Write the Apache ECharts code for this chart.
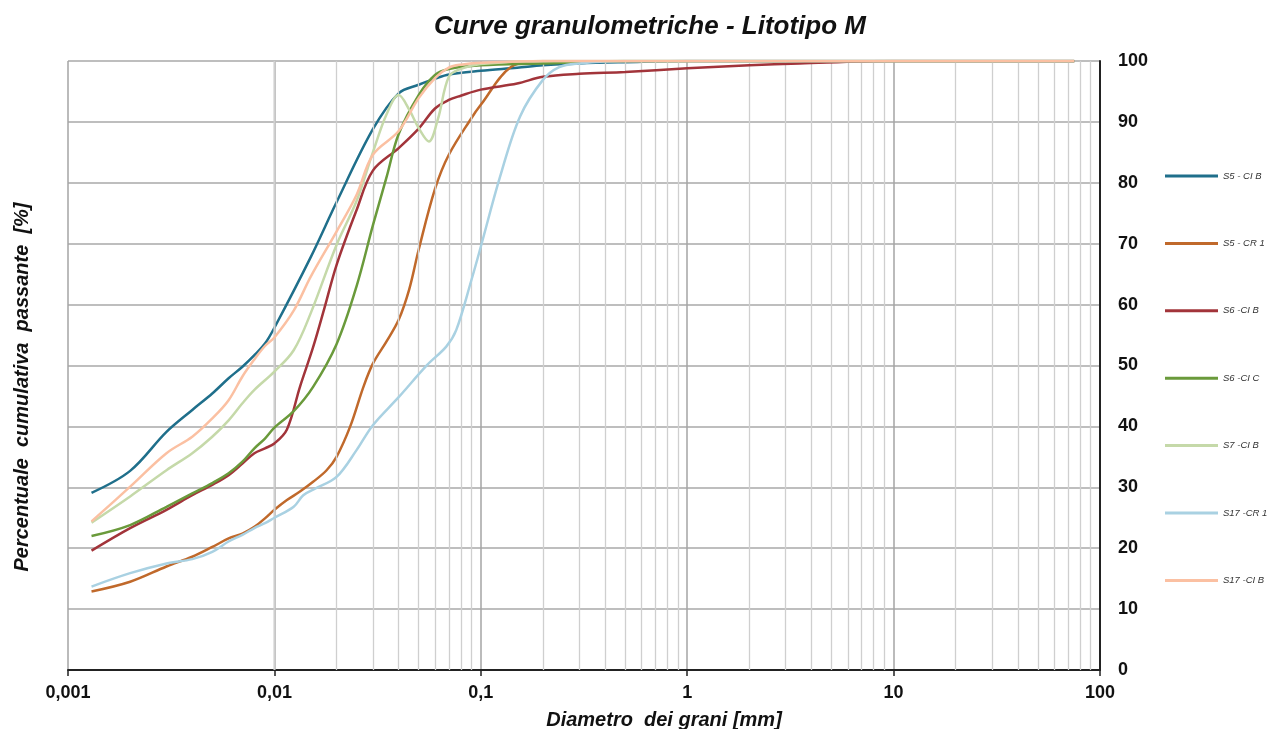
<!DOCTYPE html>
<html>
<head>
<meta charset="utf-8">
<script src="https://cdn.jsdelivr.net/npm/echarts@6/dist/echarts.min.js"></script>
<style>
html,body{margin:0;padding:0;background:#fff;}
#chart{width:1267px;height:729px;}
</style>
</head>
<body>
<div id="chart"></div>
<script>
// ---- data (diameter [mm], cumulative passing [%]) ----
const xTickLabels = ['0,001', '0,01', '0,1', '1', '10', '100'];
const yTicks = [0, 10, 20, 30, 40, 50, 60, 70, 80, 90, 100];
const seriesNames = ['S5 - CI B', 'S5 - CR 1', 'S6 -CI B', 'S6 -CI C', 'S7 -CI B', 'S17 -CR 1', 'S17 -CI B'];
const seriesColors = ['#1f6f8b', '#c0692b', '#a2343a', '#6a9a3b', '#c5d9a9', '#a9d1e2', '#fbc0a2'];

const s5CIB_d = [0.0013, 0.002, 0.003, 0.004, 0.005, 0.006, 0.007, 0.008, 0.009, 0.01, 0.015, 0.02, 0.03, 0.04, 0.05, 0.06, 0.07, 0.1, 0.15, 0.2, 0.3, 0.5, 1, 2, 75];
const s5CIB_p = [29.1, 32.7, 39.1, 42.7, 45.4, 47.9, 49.8, 51.7, 53.6, 56.2, 67.8, 76.8, 88.8, 94.7, 96.1, 97.1, 97.8, 98.4, 98.9, 99.3, 99.6, 99.8, 100, 100, 100];

const s5CR1_d = [0.0013, 0.002, 0.003, 0.004, 0.005, 0.006, 0.007, 0.008, 0.009, 0.01, 0.0115, 0.0133, 0.0154, 0.0179, 0.02, 0.0233, 0.027, 0.03, 0.035, 0.04, 0.045, 0.05, 0.06, 0.07, 0.09, 0.1, 0.14, 0.2, 75];
const s5CR1_p = [12.9, 14.5, 17.0, 18.6, 20.2, 21.6, 22.4, 23.5, 24.9, 26.3, 27.9, 29.3, 30.9, 32.8, 35.0, 40.0, 46.5, 50.3, 54.0, 57.5, 62.5, 69.0, 79.0, 84.6, 90.6, 92.8, 99.0, 100, 100];

const s6CIB_d = [0.0013, 0.002, 0.003, 0.004, 0.005, 0.006, 0.007, 0.008, 0.009, 0.01, 0.0115, 0.0133, 0.0154, 0.0175, 0.02, 0.025, 0.03, 0.04, 0.05, 0.06, 0.07, 0.08, 0.1, 0.15, 0.2, 0.3, 0.5, 1, 2, 3.5, 10, 75];
const s6CIB_p = [19.6, 23.3, 26.3, 28.7, 30.4, 32.0, 33.9, 35.6, 36.4, 37.2, 39.5, 46.5, 53.0, 59.5, 66.5, 75.5, 82.0, 85.7, 88.9, 92.2, 93.6, 94.3, 95.3, 96.3, 97.4, 97.9, 98.2, 98.8, 99.3, 99.6, 100, 100];

const s6CIC_d = [0.0013, 0.002, 0.003, 0.004, 0.005, 0.006, 0.007, 0.008, 0.009, 0.01, 0.0124, 0.0154, 0.02, 0.025, 0.03, 0.035, 0.04, 0.05, 0.06, 0.07, 0.1, 0.2, 0.5, 75];
const s6CIC_p = [22.0, 23.8, 26.8, 29.0, 30.7, 32.3, 34.2, 36.4, 38.0, 39.8, 42.5, 46.5, 53.5, 63.0, 73.0, 81.0, 88.0, 94.4, 97.7, 98.7, 99.3, 99.6, 100, 100];

const s7CIB_d = [0.0013, 0.002, 0.003, 0.004, 0.005, 0.006, 0.007, 0.008, 0.01, 0.0124, 0.015, 0.02, 0.025, 0.03, 0.035, 0.04, 0.045, 0.05, 0.056, 0.062, 0.07, 0.08, 0.1, 0.2, 75];
const s7CIB_p = [24.2, 28.5, 32.8, 35.6, 38.3, 41.0, 43.8, 46.0, 49.0, 52.5, 58.6, 69.8, 77.0, 85.0, 91.3, 94.4, 92.0, 89.0, 86.8, 90.5, 97.4, 98.7, 99.5, 100, 100];

const s17CR1_d = [0.0013, 0.002, 0.003, 0.004, 0.005, 0.006, 0.007, 0.008, 0.009, 0.01, 0.0124, 0.0138, 0.0158, 0.02, 0.025, 0.03, 0.04, 0.055, 0.068, 0.076, 0.09, 0.1, 0.124, 0.155, 0.2, 0.24, 0.3, 0.5, 75];
const s17CR1_p = [13.7, 15.9, 17.5, 18.2, 19.4, 21.1, 22.2, 23.3, 24.1, 25.0, 26.8, 28.7, 29.8, 31.7, 36.1, 40.2, 44.8, 50.1, 53.1, 55.8, 64.0, 69.5, 81.0, 90.9, 96.9, 99.0, 99.6, 100, 100];

const s17CIB_d = [0.0013, 0.002, 0.003, 0.004, 0.005, 0.006, 0.007, 0.008, 0.009, 0.01, 0.0124, 0.015, 0.02, 0.025, 0.03, 0.04, 0.05, 0.06, 0.07, 0.08, 0.1, 0.2, 75];
const s17CIB_p = [24.4, 30.1, 35.6, 38.3, 41.3, 44.3, 48.2, 51.0, 53.2, 54.6, 59.0, 64.6, 72.0, 78.0, 84.6, 88.5, 93.9, 97.2, 98.9, 99.4, 99.7, 100, 100];

const seriesD = [s5CIB_d, s5CR1_d, s6CIB_d, s6CIC_d, s7CIB_d, s17CR1_d, s17CIB_d];
const seriesP = [s5CIB_p, s5CR1_p, s6CIB_p, s6CIC_p, s7CIB_p, s17CR1_p, s17CIB_p];

// minor log grid lines (2..9 in every decade)
const minorGrid = [];
[0.001, 0.01, 0.1, 1, 10].forEach(function (dec) {
  for (let k = 2; k <= 9; k++) minorGrid.push(+(dec * k).toPrecision(3));
});

const chart = echarts.init(document.getElementById('chart'), null, { renderer: 'canvas' });
const FONT = '"Liberation Sans", Arial, sans-serif';

const series = [{
  type: 'line',
  name: '_minor',
  data: [],
  z: 1,
  silent: true,
  markLine: {
    silent: true,
    symbol: ['none', 'none'],
    animation: false,
    label: { show: false },
    lineStyle: { color: '#cfcfcf', width: 1.3, type: 'solid' },
    emphasis: { disabled: true },
    data: minorGrid.map(function (v) { return { xAxis: v }; })
  }
}];
seriesNames.forEach(function (n, i) {
  series.push({
    type: 'line',
    name: n,
    z: 3 + i,
    data: seriesD[i].map(function (d, j) { return [d, seriesP[i][j]]; }),
    showSymbol: false,
    smooth: 0.35,
    lineStyle: { width: 2.5, color: seriesColors[i] },
    itemStyle: { color: seriesColors[i] },
    emphasis: { disabled: true }
  });
});

chart.setOption({
  animation: false,
  backgroundColor: '#ffffff',
  grid: { left: 68, right: 167, top: 61, bottom: 59, containLabel: false },
  xAxis: {
    type: 'log',
    logBase: 10,
    min: 0.001,
    max: 100,
    axisLine: { show: true, lineStyle: { color: '#222', width: 2 } },
    axisTick: { show: true, length: 6, lineStyle: { color: '#222', width: 1.5 } },
    splitLine: { show: true, lineStyle: { color: '#a4a4a4', width: 1.5 } },
    axisLabel: {
      margin: 14,
      fontFamily: FONT, fontWeight: 'bold', fontSize: 18, color: '#111',
      formatter: function (v) { return xTickLabels[Math.round(Math.log10(v)) + 3]; }
    }
  },
  yAxis: {
    type: 'value',
    position: 'right',
    min: yTicks[0],
    max: yTicks[yTicks.length - 1],
    interval: 10,
    axisLine: { show: true, lineStyle: { color: '#222', width: 2 } },
    axisTick: { show: false },
    splitLine: { show: true, lineStyle: { color: '#a8a8a8', width: 1.5 } },
    axisLabel: { margin: 18, fontFamily: FONT, fontWeight: 'bold', fontSize: 18, color: '#111' }
  },
  legend: {
    data: seriesNames,
    orient: 'vertical',
    left: 1160,
    top: 165,
    itemWidth: 53,
    itemHeight: 3,
    itemGap: 55.4,
    icon: 'rect',
    selectedMode: false,
    textStyle: { fontFamily: FONT, fontStyle: 'italic', fontSize: 9.5, color: '#333', lineHeight: 12 }
  },
  graphic: [
    { type: 'text', x: 650, y: 27, style: { text: 'Curve granulometriche - Litotipo M', font: 'italic bold 26px "Liberation Sans", Arial, sans-serif', fill: '#111', textAlign: 'center', textVerticalAlign: 'middle' } },
    { type: 'text', x: 22, y: 387, rotation: Math.PI / 2, style: { text: 'Percentuale  cumulativa  passante  [%]', font: 'italic bold 20px "Liberation Sans", Arial, sans-serif', fill: '#111', textAlign: 'center', textVerticalAlign: 'middle' } },
    { type: 'text', x: 664, y: 720, style: { text: 'Diametro  dei grani [mm]', font: 'italic bold 20px "Liberation Sans", Arial, sans-serif', fill: '#111', textAlign: 'center', textVerticalAlign: 'middle' } }
  ],
  series: series
});
</script>
</body>
</html>
